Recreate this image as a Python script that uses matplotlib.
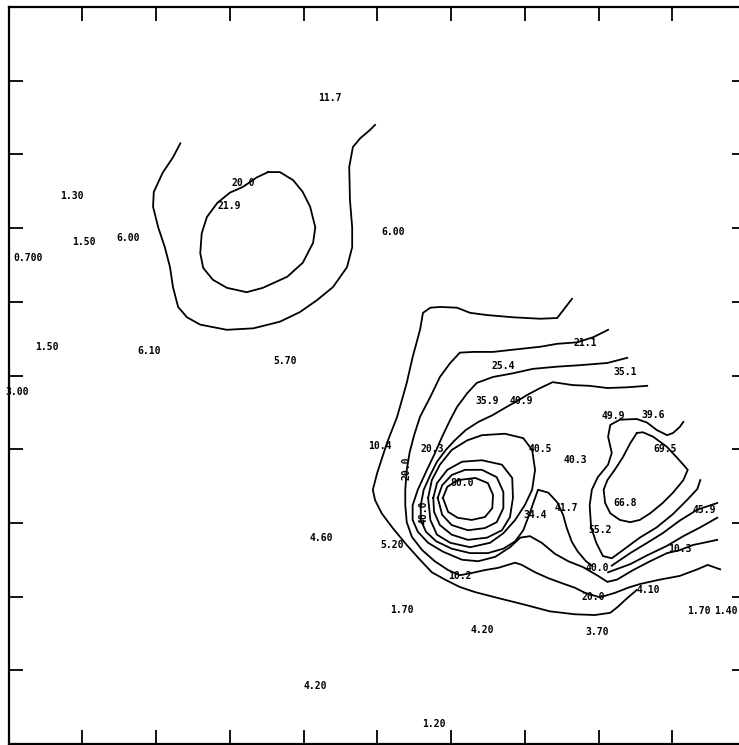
import matplotlib
matplotlib.use("Agg")
import matplotlib.pyplot as plt

# upper-left group
u_open_x = [2.33, 2.23, 2.09, 1.97, 1.96, 2.03, 2.12, 2.19, 2.23, 2.30, 2.42, 2.60, 2.96, 3.32,
            3.68, 3.95, 4.18, 4.40, 4.59, 4.66, 4.66, 4.63, 4.62, 4.67, 4.77, 4.90, 4.97]
u_open_y = [8.15, 7.96, 7.75, 7.49, 7.29, 7.01, 6.74, 6.47, 6.20, 5.93, 5.79, 5.69, 5.62, 5.64,
            5.73, 5.86, 6.02, 6.20, 6.47, 6.74, 7.01, 7.38, 7.83, 8.10, 8.22, 8.33, 8.40]
u_loop_x = [3.52, 3.68, 3.86, 3.99, 4.09, 4.16, 4.13, 3.99, 3.78, 3.45, 3.23, 2.96, 2.77, 2.64,
            2.60, 2.62, 2.69, 2.83, 3.00, 3.18, 3.37, 3.52]
u_loop_y = [7.76, 7.76, 7.65, 7.49, 7.29, 7.01, 6.80, 6.53, 6.34, 6.19, 6.13, 6.19, 6.30, 6.46,
            6.66, 6.93, 7.15, 7.34, 7.48, 7.56, 7.69, 7.76]

# right group
outer_x = [7.64, 7.44, 7.21, 6.84, 6.49, 6.26, 6.08, 5.85, 5.72, 5.62, 5.58, 5.48, 5.40, 5.27,
           5.13, 5.00, 4.94, 4.97, 5.06, 5.21, 5.40, 5.58, 5.74, 5.92, 6.12, 6.33, 6.64, 7.00,
           7.34, 7.68, 7.95, 8.16, 8.26, 8.39, 8.52]
outer_y = [6.04, 5.78, 5.77, 5.79, 5.82, 5.85, 5.92, 5.93, 5.92, 5.85, 5.62, 5.25, 4.90, 4.44,
           4.08, 3.68, 3.45, 3.31, 3.13, 2.93, 2.70, 2.50, 2.33, 2.23, 2.13, 2.06, 1.98, 1.89,
           1.80, 1.76, 1.75, 1.78, 1.86, 1.98, 2.09]

c20_x = [8.13, 7.93, 7.71, 7.44, 7.21, 6.84, 6.57, 6.30, 6.12, 5.99, 5.85, 5.72, 5.58, 5.50,
         5.44, 5.40, 5.38, 5.38, 5.40, 5.47, 5.61, 5.78, 5.96, 6.12, 6.28, 6.46, 6.64, 6.77,
         6.87, 6.96, 7.14, 7.32, 7.51, 7.68, 7.82, 8.02, 8.22, 8.40, 8.56, 8.83, 9.10, 9.34,
         9.48, 9.65]
c20_y = [5.62, 5.52, 5.45, 5.43, 5.39, 5.35, 5.32, 5.32, 5.31, 5.17, 4.98, 4.71, 4.44, 4.19,
         3.96, 3.72, 3.45, 3.24, 3.01, 2.81, 2.63, 2.48, 2.36, 2.29, 2.32, 2.36, 2.39, 2.43,
         2.46, 2.43, 2.33, 2.25, 2.18, 2.12, 2.05, 1.99, 2.05, 2.12, 2.17, 2.23, 2.28, 2.37,
         2.43, 2.37]

c30_x = [8.39, 8.12, 7.75, 7.44, 7.11, 6.84, 6.57, 6.35, 6.22, 6.08, 5.99, 5.88, 5.77, 5.66,
         5.55, 5.48, 5.48, 5.55, 5.69, 5.89, 6.15, 6.37, 6.60, 6.80, 6.94, 7.07, 7.23, 7.41,
         7.59, 7.79, 7.98, 8.12, 8.25, 8.47, 8.70, 8.93, 9.10, 9.28, 9.47, 9.61]
c30_y = [5.24, 5.17, 5.14, 5.12, 5.09, 5.03, 4.98, 4.90, 4.76, 4.57, 4.40, 4.17, 3.92, 3.69,
         3.45, 3.24, 3.04, 2.88, 2.73, 2.61, 2.50, 2.48, 2.54, 2.67, 2.80, 2.82, 2.73, 2.58,
         2.48, 2.40, 2.29, 2.20, 2.23, 2.36, 2.48, 2.59, 2.63, 2.70, 2.74, 2.77]

c40_x = [8.66, 8.39, 8.12, 7.88, 7.65, 7.38, 7.21, 7.04, 6.89, 6.73, 6.56, 6.37, 6.20, 6.05,
         5.93, 5.81, 5.72, 5.63, 5.59, 5.59, 5.66, 5.80, 6.01, 6.26, 6.50, 6.71, 6.87, 6.98,
         7.06, 7.13, 7.18, 7.32, 7.44, 7.52, 7.57, 7.64, 7.72, 7.83, 7.91]
c40_y = [4.86, 4.84, 4.83, 4.86, 4.87, 4.91, 4.83, 4.74, 4.65, 4.56, 4.46, 4.37, 4.26, 4.12,
         3.99, 3.83, 3.65, 3.45, 3.24, 3.04, 2.88, 2.75, 2.65, 2.59, 2.59, 2.65, 2.75, 2.90,
         3.11, 3.31, 3.45, 3.41, 3.28, 3.11, 2.93, 2.74, 2.61, 2.48, 2.42]
c40_tail_x = [8.13, 8.43, 8.66, 8.93, 9.15, 9.38, 9.61]
c40_tail_y = [2.33, 2.44, 2.56, 2.69, 2.82, 2.94, 3.07]
c45_x = [8.18, 8.43, 8.66, 8.87, 9.10, 9.34, 9.61]
c45_y = [2.42, 2.59, 2.73, 2.86, 3.03, 3.18, 3.27]

ring4_x = [5.69, 5.74, 5.85, 6.01, 6.22, 6.42, 6.73, 6.98, 7.10, 7.14, 7.10, 7.00, 6.87, 6.71,
           6.53, 6.26, 5.99, 5.81, 5.72, 5.69]
ring4_y = [3.34, 3.58, 3.79, 3.99, 4.12, 4.19, 4.21, 4.15, 3.99, 3.72, 3.45, 3.24, 3.04, 2.86,
           2.73, 2.67, 2.73, 2.84, 3.04, 3.34]
ring3_x = [5.76, 5.81, 5.95, 6.15, 6.42, 6.69, 6.83, 6.84, 6.80, 6.69, 6.49, 6.23, 6.01, 5.85,
           5.77, 5.76]
ring3_y = [3.34, 3.54, 3.72, 3.83, 3.85, 3.79, 3.61, 3.34, 3.08, 2.90, 2.80, 2.77, 2.84, 2.97,
           3.15, 3.34]
ring2_x = [5.82, 5.88, 6.01, 6.19, 6.42, 6.62, 6.71, 6.71, 6.62, 6.46, 6.23, 6.01, 5.88, 5.82]
ring2_y = [3.34, 3.51, 3.65, 3.72, 3.72, 3.62, 3.42, 3.20, 3.01, 2.93, 2.90, 2.97, 3.11, 3.34]
ring1_x = [5.89, 5.95, 6.09, 6.33, 6.50, 6.57, 6.56, 6.46, 6.28, 6.09, 5.96, 5.89]
ring1_y = [3.34, 3.49, 3.58, 3.61, 3.54, 3.38, 3.20, 3.08, 3.04, 3.07, 3.15, 3.34]

c50_x = [9.15, 9.10, 9.01, 8.93, 8.79, 8.66, 8.52, 8.29, 8.16, 8.13, 8.18, 8.13, 7.99, 7.91,
         7.88, 7.90, 7.97, 8.06, 8.18, 8.33, 8.56, 8.79, 9.01, 9.20, 9.34, 9.38]
c50_y = [4.37, 4.30, 4.22, 4.19, 4.26, 4.36, 4.41, 4.40, 4.33, 4.17, 3.95, 3.79, 3.62, 3.45,
         3.24, 2.94, 2.73, 2.55, 2.52, 2.63, 2.80, 2.94, 3.12, 3.31, 3.46, 3.58]
c60_x = [8.52, 8.60, 8.74, 8.93, 9.06, 9.15, 9.21, 9.15, 9.01, 8.87, 8.70, 8.56, 8.43, 8.29,
         8.16, 8.09, 8.07, 8.12, 8.22, 8.33, 8.43, 8.52]
c60_y = [4.22, 4.23, 4.17, 4.03, 3.89, 3.79, 3.72, 3.58, 3.41, 3.27, 3.13, 3.04, 3.01, 3.04,
         3.13, 3.27, 3.45, 3.58, 3.72, 3.89, 4.08, 4.22]

# printed values
val_text = ["11.7", "1.30", "1.50", "6.00", "0.700", "6.00", "1.50", "6.10", "5.70", "3.00",
            "10.4", "20.3", "25.4", "21.1", "35.1", "35.9", "40.9", "40.5", "40.3", "49.9",
            "39.6", "69.5", "80.0", "66.8", "34.4", "41.7", "55.2", "45.9", "10.3", "40.0",
            "20.0", "4.10", "10.2", "5.20", "4.60", "1.70", "4.20", "3.70", "1.70", "1.40",
            "4.20", "1.20", "20.0", "21.9"]
val_x = [4.36, 0.86, 1.02, 1.62, 0.26, 5.21, 0.52, 1.91, 3.75, 0.12,
         5.04, 5.74, 6.71, 7.82, 8.36, 6.49, 6.95, 7.21, 7.68, 8.20,
         8.74, 8.90, 6.15, 8.36, 7.14, 7.57, 8.02, 9.44, 9.11, 7.98,
         7.93, 8.67, 6.12, 5.20, 4.24, 5.34, 6.42, 7.98, 9.36, 9.73,
         4.16, 5.77, 3.18, 2.99]
val_y = [8.77, 7.44, 6.81, 6.87, 6.59, 6.95, 5.39, 5.33, 5.20, 4.78,
         4.04, 4.00, 5.13, 5.44, 5.05, 4.65, 4.65, 4.00, 3.85, 4.45,
         4.46, 4.00, 3.54, 3.27, 3.11, 3.20, 2.90, 3.18, 2.65, 2.39,
         1.99, 2.09, 2.28, 2.70, 2.80, 1.82, 1.55, 1.52, 1.80, 1.80,
         0.79, 0.27, 7.61, 7.30]

# labels written along the lines
side_text = ["20.0", "40.0"]
side_x = [5.39, 5.63]
side_y = [3.74, 3.15]

lines = [
    (u_open_x, u_open_y), (u_loop_x, u_loop_y),
    (outer_x, outer_y), (c20_x, c20_y), (c30_x, c30_y), (c40_x, c40_y),
    (c40_tail_x, c40_tail_y), (c45_x, c45_y),
    (ring4_x, ring4_y), (ring3_x, ring3_y), (ring2_x, ring2_y), (ring1_x, ring1_y),
    (c50_x, c50_y), (c60_x, c60_y),
]

fig = plt.figure(figsize=(7.39, 7.45), dpi=100)
ax = fig.add_axes([8.5 / 739, 1 / 745, 737.5 / 739, 737 / 745])

for xs, ys in lines:
    ax.plot(xs, ys, color="black", lw=1.3, solid_joinstyle="round")

for s, x, y in zip(val_text, val_x, val_y):
    ax.text(x, y, s, ha="center", va="center", fontsize=7, fontweight="bold",
            family="DejaVu Sans Mono", clip_on=False)
for s, x, y in zip(side_text, side_x, side_y):
    ax.text(x, y, s, ha="center", va="center", fontsize=7, fontweight="bold",
            family="DejaVu Sans Mono", rotation=90)

ax.set_xlim(0, 10)
ax.set_ylim(0, 10)
ax.set_xticks(range(1, 10))
ax.set_yticks(range(1, 10))
ax.tick_params(direction="in", length=10, width=1.3, top=True, right=True,
               labelbottom=False, labelleft=False)
for sp in ax.spines.values():
    sp.set_linewidth(1.6)

fig.savefig("out.png", dpi=100)
